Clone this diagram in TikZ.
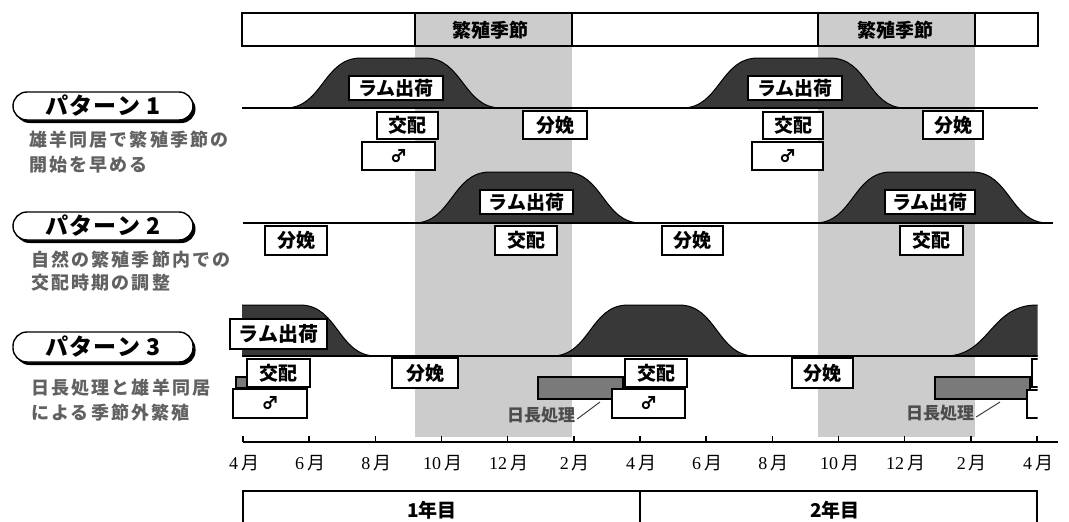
\documentclass[tikz,border=0pt]{standalone}
\usepackage{fontspec}
\newfontfamily\jp{Noto Sans CJK JP}
\newfontfamily\jpdesc[LetterSpace=12]{Noto Sans CJK JP}
\newfontfamily\jppill[LetterSpace=6]{Noto Sans CJK JP}
\newfontfamily\dig{Liberation Serif}
\usetikzlibrary{shadows}
\begin{document}
\begin{tikzpicture}[x=1pt,y=-1pt,
  lbl/.style={draw=black,line width=1.6pt,fill=white,inner sep=0pt,font=\jp\bfseries\fontsize{19}{19}\selectfont},
  male/.style={draw=black,line width=1.6pt,fill=white,inner sep=0pt,font=\jp\bfseries\fontsize{17}{17}\selectfont},
  hump/.style={fill=black!78,draw=black,line width=1pt},
  baseln/.style={line width=2pt},
  band/.style={fill=black!20},
  hatchbar/.style={draw=black,line width=1.5pt,fill=black!52,inner sep=0pt},
  pill/.style={draw=black,line width=1.4pt,fill=white,rounded corners=14pt,minimum width=180pt,minimum height=28pt,inner sep=0pt,
    drop shadow={shadow xshift=2.5pt,shadow yshift=-3pt,fill=black,opacity=1},font=\jppill\bfseries\fontsize{23}{23}\selectfont},
  desc/.style={anchor=west,inner sep=0pt,font=\jpdesc\bfseries\fontsize{18}{18}\selectfont,text=black!62},
  daylbl/.style={inner sep=0pt,font=\jp\bfseries\fontsize{17}{17}\selectfont,text=black!70},
  season/.style={inner sep=0pt,font=\jp\bfseries\fontsize{19}{19}\selectfont},
  month/.style={inner sep=0pt,font=\fontsize{18}{18}\selectfont},
  yearlbl/.style={inner sep=0pt,font=\jp\bfseries\fontsize{19}{19}\selectfont}]
\useasboundingbox (0,0) rectangle (1069,522);

% breeding season bands
\fill[band] (415,13) rectangle (572,437);
\fill[band] (818,13) rectangle (975,437);

% top bar
\draw[line width=1.4pt] (242,13) rectangle (1038,46);
\draw[line width=1.4pt] (415,13) -- (415,46) (572,13) -- (572,46) (818,13) -- (818,46) (975,13) -- (975,46);
\node[season] (s1) at (490,30) {繁殖季節};
\node[season] (s2) at (895,30) {繁殖季節};

% left labels
\node[pill] (p1) at (103,106) {パターン 1};
\node[pill] (p2) at (103,226) {パターン 2};
\node[pill,minimum height=30pt] (p3) at (103,347) {パターン 3};
\node[desc] (d1a) at (29,140) {雄羊同居で繁殖季節の};
\node[desc] (d1b) at (29,165) {開始を早める};
\node[desc] (d2a) at (31,260) {自然の繁殖季節内での};
\node[desc] (d2b) at (31,283) {交配時期の調整};
\node[desc] (d3a) at (31,388) {日長処理と雄羊同居};
\node[desc] (d3b) at (31,413) {による季節外繁殖};

% ---------- pattern 1
\draw[hump] (285,108) .. controls (323,108) and (323,58) .. (361,58) -- (425,58) .. controls (463,58) and (463,108) .. (501,108) -- cycle;
\draw[hump] (682,108) .. controls (720,108) and (720,58) .. (758,58) -- (830,58) .. controls (868,58) and (868,108) .. (905,108) -- cycle;
\draw[baseln] (242,108) -- (1038,108);
\node[lbl,minimum width=94pt,minimum height=24pt] (r1a) at (396,88) {ラム出荷};
\node[lbl,minimum width=61pt,minimum height=27pt] (k1a) at (407.5,125.5) {交配};
\node[lbl,minimum width=64pt,minimum height=28pt] (b1a) at (555,125) {分娩};
\node[male,minimum width=73pt,minimum height=28pt] (m1a) at (398.5,156) {♂};
\node[lbl,minimum width=94pt,minimum height=24pt] (r1b) at (795,88) {ラム出荷};
\node[lbl,minimum width=60pt,minimum height=27pt] (k1b) at (793,125.5) {交配};
\node[lbl,minimum width=60pt,minimum height=28pt] (b1b) at (953,125) {分娩};
\node[male,minimum width=71pt,minimum height=28pt] (m1b) at (787.5,156) {♂};

% ---------- pattern 2
\draw[hump] (414,223) .. controls (452,223) and (452,172) .. (490,172) -- (565,172) .. controls (603,172) and (603,223) .. (641,223) -- cycle;
\draw[hump] (815,223) .. controls (853,223) and (853,172) .. (891,172) -- (972,172) .. controls (1010,172) and (1010,223) .. (1048,223) -- cycle;
\draw[baseln] (243,223) -- (1053,223);
\node[lbl,minimum width=93pt,minimum height=24pt] (r2a) at (526.5,202) {ラム出荷};
\node[lbl,minimum width=62pt,minimum height=29pt] (k2a) at (526,240.5) {交配};
\node[lbl,minimum width=62pt,minimum height=29pt] (b2a) at (296,240.5) {分娩};
\node[lbl,minimum width=90pt,minimum height=24pt] (r2b) at (930,202) {ラム出荷};
\node[lbl,minimum width=63pt,minimum height=29pt] (k2b) at (931.5,240.5) {交配};
\node[lbl,minimum width=61pt,minimum height=29pt] (b2b) at (692.5,240.5) {分娩};

% ---------- pattern 3
\begin{scope}
\clip (242,290) rectangle (1037.5,430);
\draw[hump] (230,356) -- (230,305) -- (300,305) .. controls (338,305) and (338,356) .. (376,356) -- cycle;
\draw[hump] (552,356) .. controls (590,356) and (590,305) .. (628,305) -- (679,305) .. controls (717,305) and (717,356) .. (755,356) -- cycle;
\draw[hump] (945,356) .. controls (990,356) and (990,305) .. (1037,305) -- (1045,305) -- (1045,356) -- cycle;
\draw[baseln] (242,356) -- (1037.5,356);
\node[hatchbar,minimum width=95pt,minimum height=22pt] (hb3b) at (982.5,388) {};
\node[lbl,minimum width=40pt,minimum height=28pt] (k3c) at (1052,373) {};
\node[male,minimum width=40pt,minimum height=28pt] (m3c) at (1047,404) {};
\end{scope}
\node[hatchbar,minimum width=11pt,minimum height=11pt] (hb3o) at (241.5,382.5) {};
\node[lbl,font=\jp\bfseries\fontsize{20}{20}\selectfont,minimum width=97pt,minimum height=30pt] (r3a) at (278.5,334) {ラム出荷};
\node[lbl,minimum width=63pt,minimum height=28pt] (k3a) at (278.5,373) {交配};
\node[male,minimum width=74pt,minimum height=29pt] (m3a) at (270,403.5) {♂};
\node[lbl,minimum width=66pt,minimum height=30pt] (b3a) at (425,373) {分娩};
\node[hatchbar,minimum width=85pt,minimum height=22pt] (hb3a) at (580.5,388) {};
\node[lbl,minimum width=62pt,minimum height=28pt] (k3b) at (656,373) {交配};
\node[male,minimum width=73pt,minimum height=29pt] (m3b) at (648.5,403.5) {♂};
\node[lbl,minimum width=61pt,minimum height=30pt] (b3b) at (822.5,373) {分娩};
\node[daylbl] (l3a) at (541,415) {日長処理};
\node[daylbl] (l3b) at (940,413) {日長処理};
\coordinate (l3aend) at (600,402);
\coordinate (l3bend) at (1000,402);
\draw[line width=1pt,black!75] ([xshift=2pt,yshift=-4pt]l3a.east) -- (l3aend);
\draw[line width=1pt,black!75] ([xshift=2pt,yshift=-4pt]l3b.east) -- (l3bend);

% ---------- axis
\draw[line width=1.8pt] (243,442) -- (1058,442);
\foreach \i/\m in {0/4,1/6,2/8,3/10,4/12,5/2,6/4,7/6,8/8,9/10,10/12,11/2,12/4}{
  \draw[line width=1.4pt] ({243+66.17*\i},442) -- ({243+66.17*\i},436);
  \node[month] (mo\i) at ({244+66.17*\i},463) {{\dig\m}\,{\jp 月}};
}

% ---------- years
\draw[line width=1.6pt] (243,535) -- (243,491) -- (1037,491) -- (1037,535);
\draw[line width=1.6pt] (640,491) -- (640,535);
\node[yearlbl] (y1) at (432,510) {1年目};
\node[yearlbl] (y2) at (835,510) {2年目};
\end{tikzpicture}
\end{document}
